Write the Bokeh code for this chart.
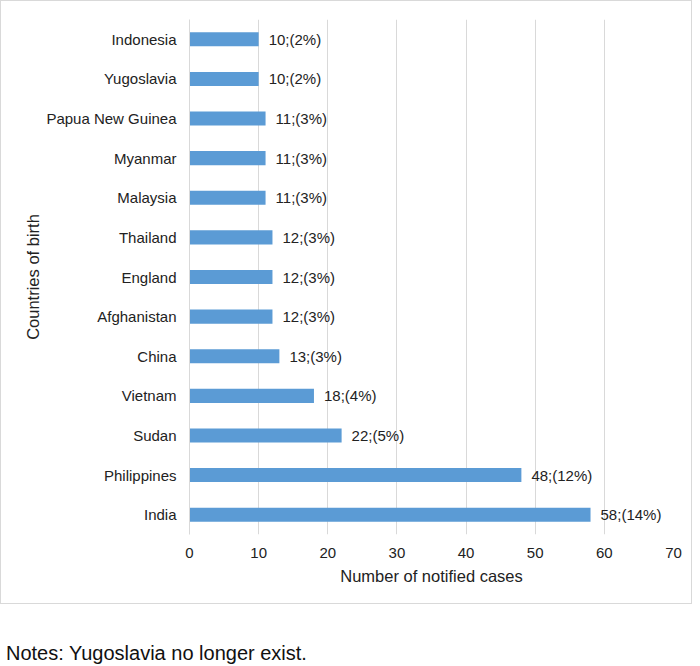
from bokeh.plotting import figure
from bokeh.models import ColumnDataSource, Range1d, FactorRange, FixedTicker, Div
from bokeh.layouts import column
from bokeh.core.properties import value
from bokeh.embed import file_html
from bokeh.resources import INLINE

# Data (top to bottom as in the reference)
countries = ["Indonesia", "Yugoslavia", "Papua New Guinea", "Myanmar", "Malaysia",
             "Thailand", "England", "Afghanistan", "China", "Vietnam", "Sudan",
             "Philippines", "India"]
cases = [10, 10, 11, 11, 11, 12, 12, 12, 13, 18, 22, 48, 58]
percents = [2, 2, 3, 3, 3, 3, 3, 3, 3, 4, 5, 12, 14]
x_ticks = [0, 10, 20, 30, 40, 50, 60, 70]
note_text = "Notes: Yugoslavia no longer exist."

labels = [f"{c};({p}%)" for c, p in zip(cases, percents)]

FONT = "Liberation Sans"
TEXT = "#222222"
BAR = "#5B9BD5"
GRID = "#d9d9d9"

src = ColumnDataSource(dict(country=countries, cases=cases, label=labels))

p = figure(width=692, height=604, output_backend="svg", toolbar_location=None,
           x_range=Range1d(0, 70), y_range=FactorRange(factors=list(reversed(countries))),
           min_border_left=188, min_border_right=20, min_border_top=18, min_border_bottom=71)
p.y_range.range_padding = 0
p.outline_line_color = None
p.background_fill_color = "white"
p.border_fill_color = "white"
p.styles = {"border": "1px solid #d9d9d9", "box-sizing": "border-box"}

p.hbar(y="country", right="cases", left=0, height=0.355, source=src,
       fill_color=BAR, line_color=None)

p.text(x="cases", y="country", text="label", source=src, x_offset=10,
       text_align="left", text_baseline="middle", text_font=value(FONT),
       text_font_size="15px", text_color=TEXT)

# Axes
p.xaxis.ticker = FixedTicker(ticks=x_ticks)
p.xaxis.axis_label = "Number of notified cases"
p.yaxis.axis_label = "Countries of birth"
for ax in (p.xaxis, p.yaxis):
    ax.major_tick_line_color = None
    ax.minor_tick_line_color = None
    ax.major_tick_out = 0
    ax.major_label_text_font = FONT
    ax.major_label_text_font_size = "15px"
    ax.major_label_text_color = TEXT
    ax.axis_label_text_font = FONT
    ax.axis_label_text_font_size = "16.5px"
    ax.axis_label_text_font_style = "normal"
    ax.axis_label_text_color = TEXT
p.xaxis.axis_line_color = None
p.yaxis.axis_line_color = GRID
p.xaxis.major_label_standoff = 13
p.xaxis.axis_label_standoff = 6
p.yaxis.major_label_standoff = 13
p.yaxis.axis_label_standoff = 1

p.xgrid.ticker = FixedTicker(ticks=x_ticks)
p.xgrid.grid_line_color = GRID
p.ygrid.grid_line_color = None

notes = Div(text=f"<div style='font-family: \"Liberation Sans\"; font-size: 20px; "
                 f"color: #111111; padding-top: 30px; padding-left: 1px; white-space: nowrap;'>"
                 f"{note_text}</div>",
            width=692, height=46)

layout = column(p, notes, spacing=0)

open("out.html", "w").write(file_html(layout, INLINE))
